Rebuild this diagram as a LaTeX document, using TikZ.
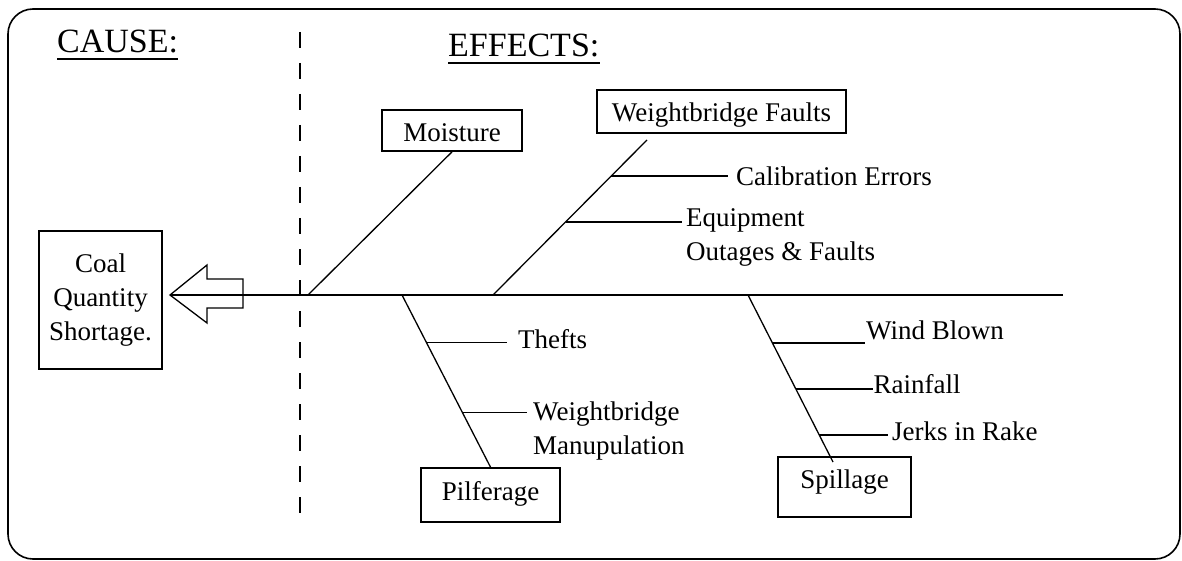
\documentclass[tikz,border=0pt]{standalone}
\usepackage{fontspec}
\setmainfont{Liberation Serif}
\usetikzlibrary{calc}
\begin{document}
\begin{tikzpicture}[x=1pt,y=-1pt,
  bone/.style={line width=1.3pt},
  frame/.style={line width=1.6pt},
  box/.style={draw, line width=1.7pt, inner sep=0pt, font=\fontsize{27}{34}\selectfont},
  lbl/.style={inner ysep=0pt, font=\fontsize{27}{34}\selectfont},
  head/.style={inner sep=0pt, font=\fontsize{34}{40}\selectfont},
]
\useasboundingbox (0,0) rectangle (1182,561);
% outer frame
\draw[frame, rounded corners=25pt] (8,9) rectangle (1180,559);

% headings
\node[head, anchor=base west] (cause) at (57,53) {CAUSE:};
\draw[frame] ([yshift=-6pt]cause.base west) -- ([yshift=-6pt]cause.base east);
\node[head, anchor=base west] (effects) at (448,57) {EFFECTS:};
\draw[frame] ([yshift=-6pt]effects.base west) -- ([yshift=-6pt]effects.base east);

% separator between cause and effects
\coordinate (d0) at (300,32);
\coordinate (d1) at (300,520);
\draw[line width=1.5pt, dash pattern=on 16pt off 15pt] (d0) -- (d1);

% the problem (head of the fish)
\node[box, align=center, minimum width=123pt, minimum height=138pt] (problem) at (100.5,300)
  {Coal\\Quantity\\Shortage.};

% hollow arrow pointing at the problem
\coordinate (tip) at (170,295);
\draw[bone] (tip) -- (207,265) -- (207,279) -- (243,279) -- (243,308) -- (207,308) -- (207,323) -- cycle;

% spine
\coordinate (tail) at (1063,295);
\draw[bone] (tail) -- (tip);

% roots of the main bones on the spine
\coordinate (mroot) at (308,295);
\coordinate (wroot) at (493,295);
\coordinate (proot) at (402,295);
\coordinate (sroot) at (748,295);
\coordinate (wtop) at (647,140);
\coordinate (sbot) at (833,462);

% category boxes
\node[box, minimum width=140pt, minimum height=41pt, text height=23pt, text depth=0pt] (moist) at (452,130.5) {Moisture};
\node[box, minimum width=249pt, minimum height=43pt, text height=26pt, text depth=5.6pt] (wbf) at (721.5,111.5) {Weightbridge Faults};
\node[box, minimum width=139pt, minimum height=54pt, text height=18pt, text depth=8pt] (pilf) at (490.5,495) {Pilferage};
\node[box, minimum width=133pt, minimum height=60pt, text height=10pt, text depth=8pt] (spill) at (844.5,487) {Spillage};

% main bones
\draw[bone] (mroot) -- (moist.south);
\draw[bone] (wroot) -- (wtop);
\draw[bone] (proot) -- (pilf.north);
\draw[bone] (sroot) -- (sbot);

% points on the bones for the sub-causes
\coordinate (c1) at ($(wroot)!0.7677!(wtop)$);
\coordinate (c2) at ($(wroot)!0.471!(wtop)$);
\coordinate (p1) at ($(proot)!0.2775!(pilf.north)$);
\coordinate (p2) at ($(proot)!0.682!(pilf.north)$);
\coordinate (s1) at ($(sroot)!0.2874!(sbot)$);
\coordinate (s2) at ($(sroot)!0.563!(sbot)$);
\coordinate (s3) at ($(sroot)!0.838!(sbot)$);

% sub-cause labels
\node[lbl, anchor=base west, inner xsep=8pt] (cal) at (728,186) {Calibration Errors};
\node[lbl, anchor=north west, align=left, inner xsep=4pt] (equip) at (682,208.6) {Equipment\\Outages \& Faults};
\node[lbl, anchor=base west, inner xsep=11pt] (thefts) at (507,348) {Thefts};
\node[lbl, anchor=north west, align=left, inner xsep=6pt] (manip) at (527,401.6) {Weightbridge\\Manupulation};
\node[lbl, anchor=base west, inner xsep=1pt] (wind) at (865,339) {Wind Blown};
\node[lbl, anchor=base west, inner xsep=0.5pt] (rain) at (873,393) {Rainfall};
\node[lbl, anchor=base west, inner xsep=4pt] (jerks) at (888,440) {Jerks in Rake};

% sub-cause branches
\draw[bone] (c1) -- (c1 -| cal.west);
\draw[bone] (c2) -- (c2 -| equip.west);
\draw[bone] (p1) -- (p1 -| thefts.west);
\draw[bone] (p2) -- (p2 -| manip.west);
\draw[bone] (s1) -- (s1 -| wind.west);
\draw[bone] (s2) -- (s2 -| rain.west);
\draw[bone] (s3) -- (s3 -| jerks.west);
\end{tikzpicture}
\end{document}
